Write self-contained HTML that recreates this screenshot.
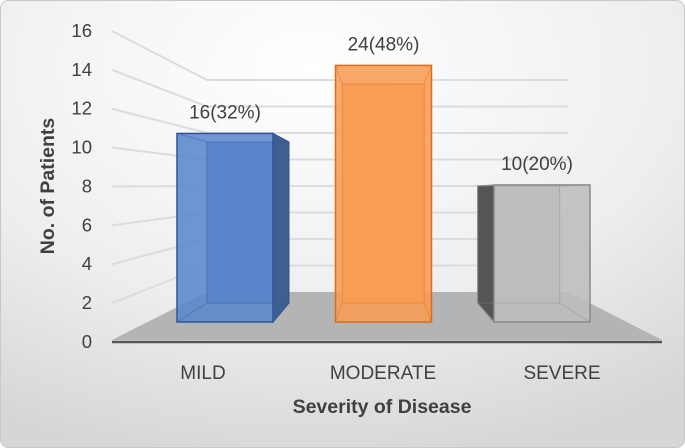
<!DOCTYPE html>
<html><head><meta charset="utf-8"><style>
body{margin:0;}
svg{display:block;font-family:"Liberation Sans",sans-serif;}
</style></head><body>
<svg id="c" width="685" height="448" viewBox="0 0 685 448">
<defs>
<radialGradient id="bg" cx="0.45" cy="0.15" r="0.9">
<stop offset="0" stop-color="#ffffff"/><stop offset="0.6" stop-color="#eeeeee"/><stop offset="1" stop-color="#d6d6d6"/>
</radialGradient>
</defs>
<rect x="0.5" y="0.5" width="684" height="447" rx="8" fill="url(#bg)" stroke="#c8c8c8"/>
<polygon points="112,340 207,292 568,292 662,340" fill="#b4b4b4"/>
<g id="grid"></g>
<g id="ticks" font-size="18.5" fill="#404040" text-anchor="end"></g>
<line x1="112" y1="342" x2="662" y2="342" stroke="#555" stroke-width="2.5"/>
<g id="bars"></g>
<g id="cats" font-size="19" fill="#404040" text-anchor="middle"></g>
<text x="54" y="186" font-size="19.5" font-weight="bold" fill="#404040" text-anchor="middle" transform="rotate(-90 54 186)">No. of Patients</text>
<text x="382" y="413" font-size="19.5" font-weight="bold" fill="#404040" text-anchor="middle">Severity of Disease</text>
</svg>
<script>
const categories=["MILD","MODERATE","SEVERE"];
const plotValues=[9.7,13.2,7.05];
const labels=["16(32%)","24(48%)","10(20%)"];
const tickValues=[0,2,4,6,8,10,12,14,16];
const NS="http://www.w3.org/2000/svg";
function mk(t,a,p){const e=document.createElementNS(NS,t);for(const k in a)e.setAttribute(k,a[k]);p.appendChild(e);return e;}
const yAxis=v=>342-v*19.44, yBack=v=>292-v*13.25, yFront=v=>322-v*19.44;
const VX=382,VY=192,S=0.854;
const bx=x=>VX+S*(x-VX), by=y=>VY+S*(y-VY);
const grid=document.getElementById('grid'),ticks=document.getElementById('ticks');
tickValues.forEach(v=>{
 if(v>0){const l=mk('polyline',{points:`112,${yAxis(v)} 207,${yBack(v)} 568,${yBack(v)}`,fill:'none',stroke:'#dcdcdc','stroke-width':2},grid);
 
 }
 const t=mk('text',{x:92,y:yAxis(v)+6},ticks);t.textContent=v;
 
 
});
const cols=[{f:'#5b86cc',s:'#2f5597',d:'#3f5f90'},{f:'#f89c55',s:'#d96d1c',d:'#e07a2a'},{f:'#bdbdbd',s:'#8a8a8a',d:'#555555'}];
const bars=document.getElementById('bars'),cats=document.getElementById('cats');
const centers=[225,383.5,542],W=96;
categories.forEach((c,i)=>{
 const x0=centers[i]-W/2,x1=centers[i]+W/2,yt=yFront(plotValues[i]),yb=322;
 const g=mk('g',{},bars);
 
 
 const co=cols[i];
 mk('polygon',{points:`${bx(x0)},${by(yt)} ${bx(x1)},${by(yt)} ${bx(x1)},${by(yb)} ${bx(x0)},${by(yb)}`,fill:co.f,stroke:co.s,'stroke-opacity':0.5},g);
 if(bx(x1)>x1) mk('polygon',{points:`${x1},${yt} ${bx(x1)},${by(yt)} ${bx(x1)},${by(yb)} ${x1},${yb}`,fill:co.d,stroke:co.s},g);
 if(bx(x0)<x0) mk('polygon',{points:`${x0},${yt} ${bx(x0)},${by(yt)} ${bx(x0)},${by(yb)} ${x0},${yb}`,fill:co.d,stroke:co.s},g);
 mk('rect',{x:x0,y:yt,width:W,height:yb-yt,fill:co.f,'fill-opacity':0.88,stroke:co.s,'stroke-width':1.5},g);
 mk('polyline',{points:`${x0},${yt} ${bx(x0)},${by(yt)} ${bx(x0)},${by(yb)} ${x0},${yb}`,fill:'none',stroke:co.s,'stroke-opacity':0.4},g);
 mk('polyline',{points:`${x1},${yt} ${bx(x1)},${by(yt)} ${bx(x1)},${by(yb)} ${x1},${yb}`,fill:'none',stroke:co.s,'stroke-opacity':0.4},g);
 mk('line',{x1:bx(x0),y1:by(yb),x2:bx(x1),y2:by(yb),stroke:co.s,'stroke-opacity':0.4},g);
 mk('line',{x1:bx(x0),y1:by(yt),x2:bx(x1),y2:by(yt),stroke:co.s,'stroke-opacity':0.4},g);
 const lb=mk('text',{x:centers[i]+(i==2?-5:0),y:yt-15,'font-size':19,fill:'#404040','text-anchor':'middle'},bars);
 lb.textContent=labels[i];
 
 
 const ct=mk('text',{x:[203,383,562][i],y:379},cats);ct.textContent=c;
 
 
});
</script>
</body></html>
